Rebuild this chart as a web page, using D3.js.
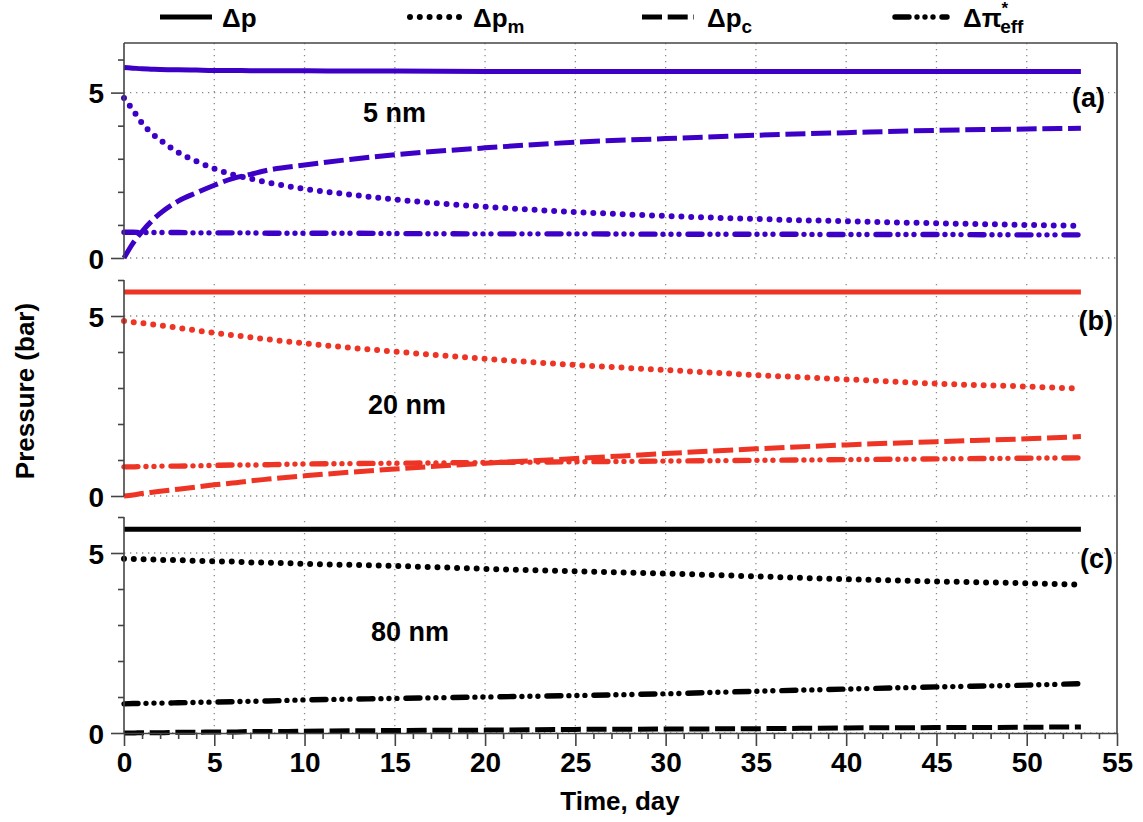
<!DOCTYPE html>
<html>
<head>
<meta charset="utf-8">
<script src="https://cdn.jsdelivr.net/npm/d3@7"></script>
<style>
  html, body { margin: 0; padding: 0; background: #fff; }
  svg { display: block; font-family: "Liberation Sans", Arial, Helvetica, sans-serif; font-weight: bold; }
</style>
</head>
<body>
<svg id="chart" width="1143" height="822"></svg>
<script>
// ---------------- data ----------------
const days = [0, 0.5, 1, 1.5, 2, 3, 4, 5, 6, 7, 8, 10, 12.5, 15, 20, 25, 30, 35, 40, 45, 50, 53];

// (a) 5 nm
const a_dp   = [5.76,5.74,5.72,5.71,5.70,5.69,5.68,5.67,5.67,5.66,5.66,5.66,5.65,5.65,5.64,5.64,5.64,5.64,5.64,5.64,5.64,5.64];
const a_dpm  = [4.84,4.47,4.08,3.79,3.57,3.19,2.93,2.70,2.52,2.40,2.28,2.09,1.92,1.77,1.55,1.39,1.27,1.18,1.11,1.05,1.00,0.97];
const a_dpc  = [0.00,0.45,0.80,1.10,1.35,1.72,1.97,2.20,2.40,2.53,2.66,2.81,2.98,3.12,3.33,3.50,3.61,3.71,3.79,3.86,3.90,3.92];
const a_dpi  = [0.78,0.78,0.77,0.77,0.77,0.77,0.76,0.76,0.76,0.76,0.75,0.75,0.75,0.74,0.73,0.73,0.72,0.72,0.71,0.71,0.70,0.70];

// (b) 20 nm
const b_dp   = [5.67,5.67,5.67,5.67,5.67,5.67,5.67,5.67,5.67,5.67,5.67,5.67,5.67,5.67,5.67,5.67,5.67,5.67,5.67,5.67,5.67,5.67];
const b_dpm  = [4.86,4.83,4.80,4.77,4.74,4.67,4.60,4.53,4.47,4.41,4.35,4.24,4.12,4.01,3.81,3.64,3.50,3.36,3.24,3.12,3.04,2.98];
const b_dpc  = [0.00,0.03,0.07,0.10,0.13,0.19,0.25,0.31,0.36,0.42,0.47,0.56,0.66,0.75,0.91,1.04,1.18,1.31,1.42,1.51,1.59,1.65];
const b_dpi  = [0.81,0.81,0.82,0.82,0.83,0.83,0.84,0.85,0.86,0.86,0.87,0.89,0.90,0.91,0.93,0.95,0.97,0.99,1.01,1.03,1.05,1.06];

// (c) 80 nm
const c_dp   = [5.66,5.66,5.66,5.66,5.66,5.66,5.66,5.66,5.66,5.66,5.66,5.66,5.66,5.66,5.66,5.66,5.66,5.66,5.66,5.66,5.66,5.66];
const c_dpm  = [4.84,4.83,4.83,4.82,4.81,4.80,4.78,4.77,4.76,4.74,4.73,4.70,4.67,4.64,4.56,4.49,4.43,4.35,4.27,4.21,4.16,4.12];
const c_dpc  = [0.00,0.00,0.01,0.01,0.01,0.02,0.02,0.03,0.03,0.04,0.04,0.05,0.06,0.07,0.08,0.10,0.11,0.12,0.14,0.15,0.16,0.17];
const c_dpi  = [0.81,0.82,0.82,0.83,0.83,0.84,0.85,0.86,0.87,0.88,0.89,0.92,0.94,0.96,1.00,1.04,1.09,1.16,1.22,1.28,1.33,1.37];

const xTickMajor = [0,5,10,15,20,25,30,35,40,45,50,55];
const yTickMajor = [0,5];
const yTickMinor = [1,2,3,4,6];
const panelNames = ["5 nm", "20 nm", "80 nm"];
const panelTags  = ["(a)", "(b)", "(c)"];
const panelColors = ["#3d00c6", "#ee3424", "#000000"];
const panelYMax = [6.5, 6, 6];

// ---------------- layout ----------------
const svg = d3.select("#chart");
const left = 124, right = 1117;
const panels = [
  {top: 43,  bottom: 258},
  {top: 280, bottom: 496},
  {top: 517, bottom: 733}
];
const x = d3.scaleLinear().domain([0, 55]).range([left, right]);

const styles = {
  solid:  {dash: null, cap: "butt", w: 5},
  dot:    {dash: "0 9.8", cap: "round", w: 6},
  dash:   {dash: "20 5.7", cap: "butt", w: 5},
  dashdot:{dash: "14 8 0 8 0 8 0 9", cap: "round", w: 5.4}
};

const seriesByPanel = [
  [["solid", a_dp], ["dot", a_dpm], ["dash", a_dpc], ["dashdot", a_dpi]],
  [["solid", b_dp], ["dot", b_dpm], ["dash", b_dpc], ["dashdot", b_dpi]],
  [["solid", c_dp], ["dot", c_dpm], ["dash", c_dpc], ["dashdot", c_dpi]]
];

const gridColor = "#8a8a8a";
const axisColor = "#444";

panels.forEach((p, i) => {
  const y = d3.scaleLinear().domain([0, panelYMax[i]]).range([p.bottom, p.top]);
  const g = svg.append("g");
  const gridTop = i === 0 ? p.top : y(6) + 4;

  // grid vertical
  g.selectAll("line.vg").data(xTickMajor.filter(v => v > 0 && v < 55)).enter()
    .append("line")
    .attr("x1", d => x(d)).attr("x2", d => x(d))
    .attr("y1", gridTop).attr("y2", p.bottom)
    .attr("stroke", gridColor).attr("stroke-width", 1.3)
    .attr("stroke-dasharray", "1.3 4.7");
  // grid horizontal
  g.selectAll("line.hg").data([0, 5]).enter()
    .append("line")
    .attr("x1", left).attr("x2", right)
    .attr("y1", d => y(d)).attr("y2", d => y(d))
    .attr("stroke", gridColor).attr("stroke-width", 1.3)
    .attr("stroke-dasharray", "1.3 4.7");

  // series
  seriesByPanel[i].forEach(([st, vals]) => {
    const s = styles[st];
    const line = d3.line().x((d, k) => x(days[k])).y(d => y(d)).curve(d3.curveMonotoneX);
    g.append("path").datum(vals)
      .attr("d", line)
      .attr("fill", "none")
      .attr("stroke", panelColors[i])
      .attr("stroke-width", s.w)
      .attr("stroke-linecap", s.cap)
      .attr("stroke-dasharray", s.dash);
  });

  // y axis
  const yTop = i === 0 ? p.top : y(6);
  g.append("line").attr("x1", left).attr("x2", left).attr("y1", yTop).attr("y2", p.bottom)
    .attr("stroke", axisColor).attr("stroke-width", 1.6);
  const majorAx = d3.axisLeft(y).tickValues(yTickMajor).tickSize(13).tickSizeOuter(0).tickPadding(7).tickFormat(d3.format("d"));
  const minorAx = d3.axisLeft(y).tickValues(yTickMinor).tickSize(6).tickSizeOuter(0).tickFormat("");
  const gMaj = g.append("g").attr("transform", `translate(${left},0)`).call(majorAx);
  const gMin = g.append("g").attr("transform", `translate(${left},0)`).call(minorAx);
  [gMaj, gMin].forEach(ga => {
    ga.select(".domain").remove();
    ga.selectAll("line").attr("stroke", axisColor).attr("stroke-width", 1.6);
  });
  gMaj.selectAll("text").attr("font-size", 28).attr("font-weight", "bold")
    .attr("font-family", "Liberation Sans, Arial, sans-serif").attr("fill", "#000").attr("dy", "0.36em");

  // labels
  const nmPos = [[363, 121.5], [368, 413.5], [371, 640.5]];
  svg.append("text").attr("x", nmPos[i][0]).attr("y", nmPos[i][1])
    .attr("font-size", 27).attr("fill", "#000").text(panelNames[i]);
  const tagPos = [[1105, 106.5], [1113, 330], [1113, 568]];
  svg.append("text").attr("x", tagPos[i][0]).attr("y", tagPos[i][1])
    .attr("text-anchor", "end").attr("font-size", 27).attr("fill", "#000").text(panelTags[i]);
});

// frame: top and right
svg.append("line").attr("x1", left).attr("x2", right).attr("y1", 43).attr("y2", 43)
  .attr("stroke", axisColor).attr("stroke-width", 1.6);
svg.append("line").attr("x1", right).attr("x2", right).attr("y1", 43).attr("y2", 733)
  .attr("stroke", axisColor).attr("stroke-width", 1.6);

// x axis
const xMaj = d3.axisBottom(x).tickValues(xTickMajor).tickSize(13).tickSizeOuter(0).tickPadding(6).tickFormat(d3.format("d"));
const xMin = d3.axisBottom(x).tickValues(d3.range(0, 56).filter(v => v % 5 !== 0)).tickSize(6).tickSizeOuter(0).tickFormat("");
const gx = svg.append("g").attr("transform", "translate(0,733)").call(xMaj);
const gxm = svg.append("g").attr("transform", "translate(0,733)").call(xMin);
gx.select(".domain").attr("stroke", axisColor).attr("stroke-width", 1.6);
gxm.select(".domain").remove();
[gx, gxm].forEach(ga => ga.selectAll("line").attr("stroke", axisColor).attr("stroke-width", 1.6));
gx.selectAll("text").attr("font-size", 28).attr("font-weight", "bold")
  .attr("font-family", "Liberation Sans, Arial, sans-serif").attr("fill", "#000");

// axis titles
svg.append("text").attr("x", 620).attr("y", 810).attr("text-anchor", "middle")
  .attr("font-size", 26).attr("fill", "#000").text("Time, day");
svg.append("text").attr("transform", "translate(34,391) rotate(-90)").attr("text-anchor", "middle")
  .attr("font-size", 26).attr("fill", "#000").text("Pressure (bar)");

// legend
const legendKeys = ["solid", "dot", "dash", "dashdot"];
const legendX = [160, 410, 642, 895];
const lg = svg.append("g");
legendKeys.forEach((k, i) => {
  const s = styles[k];
  lg.append("line").attr("x1", legendX[i]).attr("x2", legendX[i] + 52)
    .attr("y1", 17).attr("y2", 17)
    .attr("stroke", "#000").attr("stroke-width", s.w)
    .attr("stroke-linecap", s.cap).attr("stroke-dasharray", s.dash);
});
const lt = (xx) => lg.append("text").attr("x", xx).attr("y", 27).attr("font-size", 26).attr("fill", "#000");
lt(222).text("Δp");
const t2 = lt(473); t2.append("tspan").text("Δp"); t2.append("tspan").attr("dy", 6).attr("font-size", 19).text("m");
const t3 = lt(707); t3.append("tspan").text("Δp"); t3.append("tspan").attr("dy", 6).attr("font-size", 19).text("c");
const t4 = lt(963); t4.append("tspan").text("Δπ");
t4.append("tspan").attr("dy", -13).attr("font-size", 17).text("*");
t4.append("tspan").attr("dx", -8).attr("dy", 19).attr("font-size", 19).text("eff");
</script>
</body>
</html>
